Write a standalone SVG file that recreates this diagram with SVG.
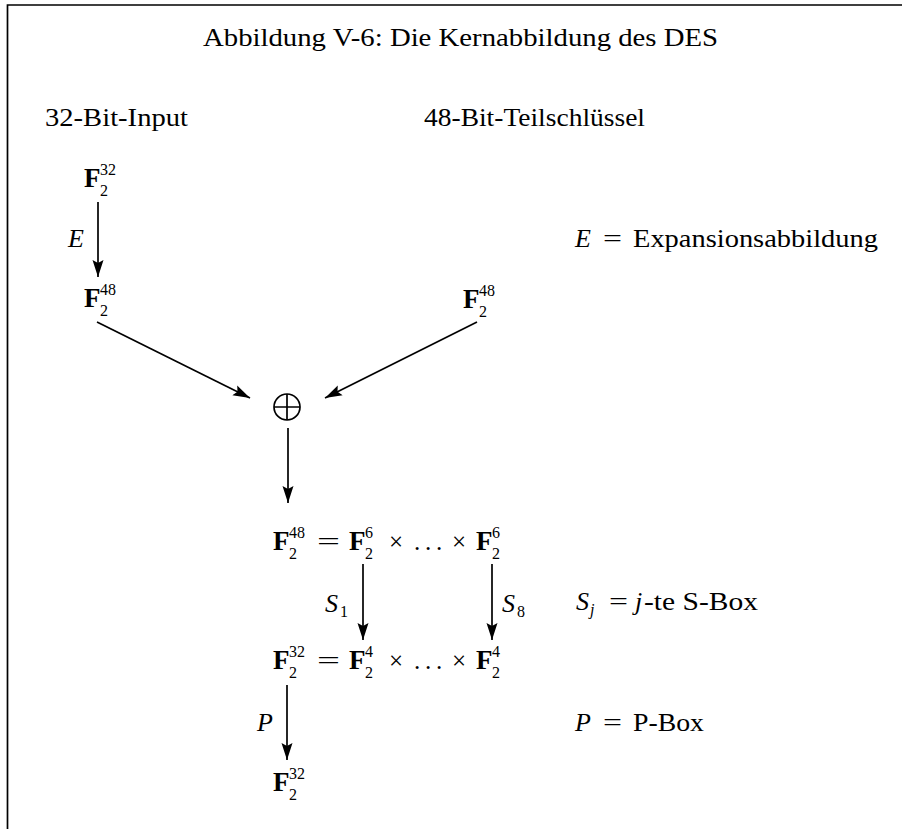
<svg xmlns="http://www.w3.org/2000/svg" width="902" height="829" viewBox="0 0 902 829">
<style>
.t{font-family:"Liberation Serif","DejaVu Serif","Times New Roman",serif;font-size:25px;fill:#000}
.b{font-family:"Liberation Serif","DejaVu Serif","Times New Roman",serif;font-size:27px;font-weight:bold;fill:#000}
.s{font-family:"Liberation Serif","DejaVu Serif","Times New Roman",serif;font-size:16px;fill:#000}
.i{font-family:"Liberation Serif","DejaVu Serif","Times New Roman",serif;font-size:26px;font-style:italic;fill:#000}
.ln{stroke:#000;stroke-width:1.7;fill:none}
</style>
<defs>
<marker id="ah" markerUnits="userSpaceOnUse" markerWidth="20" markerHeight="14" refX="17" refY="6" orient="auto">
<path d="M0,0.5 L17,6 L0,11.5 L3,6 Z" fill="#000"/>
</marker>
</defs>
<rect width="902" height="829" fill="#fff"/>
<g id="frame"><path class="ln" d="M7.5,829 V5 H902" stroke-width="2"/></g>
<g id="title"><text class="t" x="203" y="46" textLength="515" lengthAdjust="spacingAndGlyphs">Abbildung V-6: Die Kernabbildung des DES</text></g>
<g id="input-label"><text class="t" x="45" y="126" textLength="143" lengthAdjust="spacingAndGlyphs">32-Bit-Input</text></g>
<g id="key-label"><text class="t" x="424" y="126" textLength="221" lengthAdjust="spacingAndGlyphs">48-Bit-Teilschlüssel</text></g>
<g id="n-in"><text class="b" x="84" y="187">F</text><text class="s" x="100" y="175">32</text><text class="s" x="100" y="196">2</text></g>
<g id="n-exp"><text class="b" x="84" y="307">F</text><text class="s" x="100" y="295">48</text><text class="s" x="100" y="316">2</text></g>
<g id="n-key"><text class="b" x="463" y="308">F</text><text class="s" x="479" y="296">48</text><text class="s" x="479" y="317">2</text></g>
<g id="n-xor"><circle cx="287" cy="407" r="13" class="ln"/><path class="ln" d="M274,407 H300 M287,394 V420"/></g>
<g id="n-row48">
<text class="b" x="273" y="550">F</text><text class="s" x="289" y="538">48</text><text class="s" x="289" y="559">2</text>
<text class="t" x="317" y="550" textLength="23" lengthAdjust="spacingAndGlyphs">=</text>
<text class="b" x="349" y="550">F</text><text class="s" x="365" y="538">6</text><text class="s" x="365" y="559">2</text>
<text class="t" x="389" y="550">×</text>
<text class="t" x="414" y="550">.</text><text class="t" x="425" y="550">.</text><text class="t" x="436" y="550">.</text>
<text class="t" x="452" y="550">×</text>
<text class="b" x="476" y="550">F</text><text class="s" x="492" y="538">6</text><text class="s" x="492" y="559">2</text>
</g>
<g id="n-row32">
<text class="b" x="273" y="669">F</text><text class="s" x="289" y="657">32</text><text class="s" x="289" y="678">2</text>
<text class="t" x="317" y="669" textLength="23" lengthAdjust="spacingAndGlyphs">=</text>
<text class="b" x="349" y="669">F</text><text class="s" x="365" y="657">4</text><text class="s" x="365" y="678">2</text>
<text class="t" x="389" y="669">×</text>
<text class="t" x="414" y="669">.</text><text class="t" x="425" y="669">.</text><text class="t" x="436" y="669">.</text>
<text class="t" x="452" y="669">×</text>
<text class="b" x="476" y="669">F</text><text class="s" x="492" y="657">4</text><text class="s" x="492" y="678">2</text>
</g>
<g id="n-out"><text class="b" x="273" y="791">F</text><text class="s" x="289" y="779">32</text><text class="s" x="289" y="800">2</text></g>
<g id="connectors">
<line class="ln" x1="98" y1="202" x2="98" y2="277" marker-end="url(#ah)"/>
<line class="ln" x1="97" y1="322" x2="250" y2="398" marker-end="url(#ah)"/>
<line class="ln" x1="477" y1="322" x2="325" y2="398" marker-end="url(#ah)"/>
<line class="ln" x1="288" y1="428" x2="288" y2="503" marker-end="url(#ah)"/>
<line class="ln" x1="363" y1="564" x2="363" y2="640" marker-end="url(#ah)"/>
<line class="ln" x1="492" y1="564" x2="492" y2="640" marker-end="url(#ah)"/>
<line class="ln" x1="287" y1="685" x2="287" y2="760" marker-end="url(#ah)"/>
</g>
<g id="edge-labels">
<text class="i" x="68" y="247">E</text>
<text class="i" x="325" y="612">S</text><text class="s" x="340" y="617">1</text>
<text class="i" x="502" y="612">S</text><text class="s" x="517" y="617">8</text>
<text class="i" x="257" y="731">P</text>
</g>
<g id="legend-E"><text class="i" x="575" y="247">E</text><text class="t" x="603" y="247" textLength="19" lengthAdjust="spacingAndGlyphs">=</text><text class="t" x="633" y="247" textLength="245" lengthAdjust="spacingAndGlyphs">Expansionsabbildung</text></g>
<g id="legend-S"><text class="i" x="576" y="610">S</text><text class="s" x="590" y="615" font-style="italic">j</text><text class="t" x="609" y="610" textLength="19" lengthAdjust="spacingAndGlyphs">=</text><text class="i" x="635" y="610">j</text><text class="t" x="644" y="610" textLength="114" lengthAdjust="spacingAndGlyphs">-te S-Box</text></g>
<g id="legend-P"><text class="i" x="575" y="731">P</text><text class="t" x="603" y="731" textLength="19" lengthAdjust="spacingAndGlyphs">=</text><text class="t" x="633" y="731" textLength="71" lengthAdjust="spacingAndGlyphs">P-Box</text></g>
</svg>
